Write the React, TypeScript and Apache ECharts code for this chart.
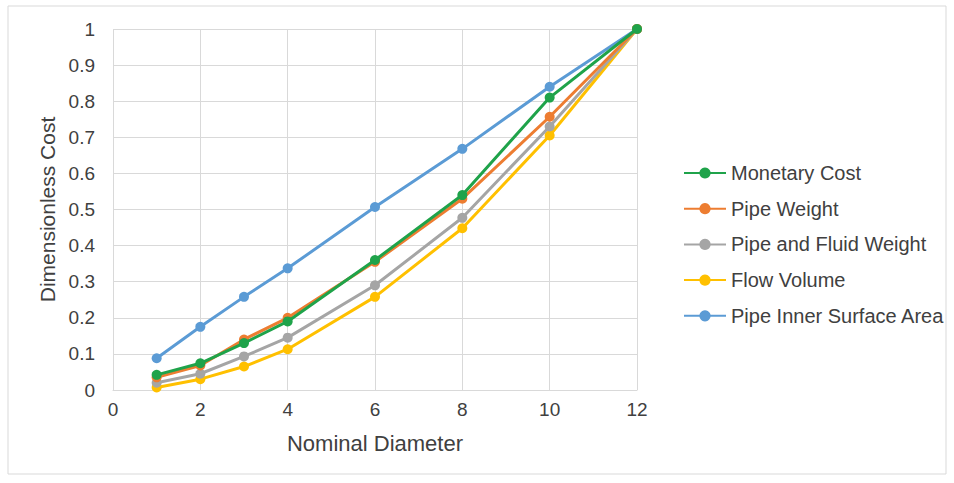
import React, { useEffect, useRef } from "react";
import * as echarts from "echarts";

const diameters = [1, 2, 3, 4, 6, 8, 10, 12];
const monetaryCost = [0.042, 0.074, 0.13, 0.19, 0.36, 0.54, 0.81, 1.0];
const pipeWeight = [0.035, 0.068, 0.14, 0.2, 0.355, 0.53, 0.757, 1.0];
const pipeFluidWeight = [0.02, 0.045, 0.093, 0.145, 0.29, 0.477, 0.73, 1.0];
const flowVolume = [0.007, 0.03, 0.065, 0.113, 0.258, 0.448, 0.705, 1.0];
const innerSurface = [0.088, 0.175, 0.258, 0.337, 0.507, 0.668, 0.84, 1.0];

const seriesNames = [
  "Monetary Cost",
  "Pipe Weight",
  "Pipe and Fluid Weight",
  "Flow Volume",
  "Pipe Inner Surface Area",
];
const seriesValues = [monetaryCost, pipeWeight, pipeFluidWeight, flowVolume, innerSurface];
const seriesColors = ["#1fa34a", "#ed7d31", "#a5a5a5", "#ffc000", "#5b9bd5"];
const drawOrder = [4, 3, 2, 1, 0];

const FONT = "'Liberation Sans', Arial, sans-serif";
const TEXT = "#404040";

export default function App() {
  const ref = useRef<HTMLDivElement>(null);
  useEffect(() => {
    if (!ref.current) return;
    const chart = echarts.init(ref.current, null, { renderer: "svg" });
    const series = drawOrder.map((i, k) => ({
      name: seriesNames[i],
      type: "line",
      data: diameters.map((d, j) => [d, seriesValues[i][j]]),
      symbol: "circle",
      symbolSize: 10,
      lineStyle: { width: 3, color: seriesColors[i] },
      itemStyle: { color: seriesColors[i] },
      z: 2 + k,
    }));
    chart.setOption({
      animation: false,
      backgroundColor: "#ffffff",
      color: seriesColors,
      graphic: [
        {
          type: "rect",
          shape: { x: 8, y: 6, width: 938, height: 468 },
          style: { fill: "none", stroke: "#d9d9d9", lineWidth: 1 },
          silent: true,
        },
      ],
      grid: { left: 113, right: 317, top: 29, bottom: 93, containLabel: false },
      legend: {
        orient: "vertical",
        left: 678,
        top: 158,
        itemGap: 15.7,
        itemWidth: 42,
        itemHeight: 14,
        data: seriesNames,
        textStyle: { fontFamily: FONT, fontSize: 20, color: TEXT },
      },
      xAxis: {
        type: "value",
        min: 0,
        max: 12,
        interval: 2,
        name: "Nominal Diameter",
        nameLocation: "middle",
        nameGap: 42,
        nameTextStyle: { fontFamily: FONT, fontSize: 22, color: TEXT },
        axisLine: { show: true, lineStyle: { color: "#d9d9d9", width: 1 } },
        axisTick: { show: false },
        axisLabel: { fontFamily: FONT, fontSize: 19, color: TEXT, margin: 10 },
        splitLine: { show: true, lineStyle: { color: "#d9d9d9", width: 1 } },
      },
      yAxis: {
        type: "value",
        min: 0,
        max: 1,
        interval: 0.1,
        name: "Dimensionless Cost",
        nameLocation: "middle",
        nameGap: 52,
        nameTextStyle: { fontFamily: FONT, fontSize: 21, color: TEXT },
        axisLine: { show: false },
        axisTick: { show: false },
        axisLabel: { fontFamily: FONT, fontSize: 19, color: TEXT, margin: 18 },
        splitLine: { show: true, lineStyle: { color: "#d9d9d9", width: 1 } },
      },
      series,
    });
    return () => chart.dispose();
  }, []);
  return (
    <div
      ref={ref}
      style={{ position: "fixed", left: 0, top: 0, width: 954, height: 483 }}
    />
  );
}
